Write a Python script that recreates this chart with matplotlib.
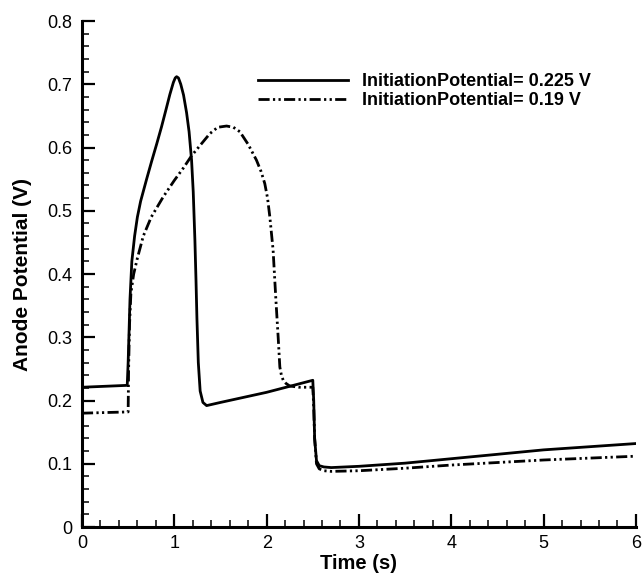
import numpy as np
import matplotlib
matplotlib.use('Agg')
import matplotlib.pyplot as plt
from matplotlib.ticker import MultipleLocator

plt.rcParams['font.family'] = ['Liberation Sans', 'DejaVu Sans']

# -------------------------------------------------------------------
# curve: InitiationPotential = 0.225 V
t_a = [0.0, 0.49, 0.50, 0.51, 0.52, 0.54, 0.57, 0.60, 0.635, 0.70, 0.754,
       0.81, 0.862, 0.91, 0.952, 0.99, 1.01, 1.025, 1.045, 1.07, 1.10, 1.133,
       1.16, 1.187, 1.205, 1.223, 1.235, 1.245, 1.26, 1.28, 1.31, 1.35, 1.5,
       2.0, 2.5, 2.51, 2.52, 2.54, 2.57, 2.62, 2.7, 3.0, 3.5, 4.0, 4.5, 5.0,
       5.5, 6.0]
v_a = [0.221, 0.224, 0.26, 0.31, 0.36, 0.42, 0.46, 0.49, 0.515, 0.55, 0.578,
       0.606, 0.633, 0.66, 0.684, 0.703, 0.710, 0.712, 0.710, 0.700, 0.683,
       0.655, 0.625, 0.58, 0.53, 0.454, 0.39, 0.33, 0.26, 0.215, 0.197, 0.192,
       0.197, 0.213, 0.232, 0.20, 0.14, 0.105, 0.097, 0.095, 0.094, 0.096,
       0.101, 0.108, 0.115, 0.122, 0.127, 0.132]

# InitiationPotential = 0.19 V
t_b = [0.0, 0.50, 0.505, 0.515, 0.53, 0.56, 0.60, 0.664, 0.75, 0.88, 1.0,
       1.1, 1.187, 1.3, 1.385, 1.47, 1.566, 1.64, 1.71, 1.8, 1.89, 1.94, 1.98,
       2.01, 2.035, 2.07, 2.10, 2.125, 2.143, 2.16, 2.18, 2.21, 2.25, 2.35,
       2.5, 2.51, 2.52, 2.54, 2.57, 2.62, 2.7, 3.0, 3.5, 4.0, 4.5, 5.0, 5.5,
       6.0]
v_b = [0.180, 0.182, 0.25, 0.32, 0.37, 0.40, 0.425, 0.46, 0.49, 0.522, 0.548,
       0.568, 0.587, 0.607, 0.622, 0.632, 0.634, 0.632, 0.625, 0.605, 0.58,
       0.562, 0.543, 0.52, 0.49, 0.438, 0.36, 0.30, 0.253, 0.24, 0.232, 0.227,
       0.223, 0.221, 0.221, 0.19, 0.14, 0.10, 0.092, 0.089, 0.088, 0.089,
       0.093, 0.098, 0.102, 0.106, 0.109, 0.112]

label_a = 'InitiationPotential= 0.225 V'
label_b = 'InitiationPotential= 0.19 V'

x_ticks = [0, 1, 2, 3, 4, 5, 6]
x_ticklabels = ['0', '1', '2', '3', '4', '5', '6']
y_ticks = [0, 0.1, 0.2, 0.3, 0.4, 0.5, 0.6, 0.7, 0.8]
y_ticklabels = ['0', '0.1', '0.2', '0.3', '0.4', '0.5', '0.6', '0.7', '0.8']

# -------------------------------------------------------------------
fig = plt.figure(figsize=(6.43, 5.76), dpi=100)
ax = fig.add_axes([0.1275, 0.085, 0.8615, 0.8785])

dashdotdot = (0, (4.0, 1.2, 0.8, 1.2, 0.8, 1.2))
ax.plot(t_a, v_a, color='black', linewidth=2.0, label=label_a)
ax.plot(t_b, v_b, color='black', linewidth=2.0, linestyle=dashdotdot, label=label_b)

ax.set_xlim(0, 6)
ax.set_ylim(0, 0.8)
ax.set_xticks(x_ticks)
ax.set_xticklabels(x_ticklabels, fontsize=13)
ax.set_yticks(y_ticks)
ax.set_yticklabels(y_ticklabels, fontsize=13)
ax.xaxis.set_minor_locator(MultipleLocator(0.2))
ax.yaxis.set_minor_locator(MultipleLocator(0.02))

ax.spines['top'].set_visible(False)
ax.spines['right'].set_visible(False)
ax.spines['left'].set_linewidth(2.2)
ax.spines['bottom'].set_linewidth(2.2)
ax.tick_params(which='major', direction='in', length=9.5, width=1.6, pad=7)
ax.tick_params(which='minor', direction='in', length=5, width=1.1)
ax.tick_params(axis='x', which='major', pad=6)

ax.set_xlabel('Time (s)', fontsize=14.5, fontweight='bold', labelpad=1)
ax.set_ylabel('Anode Potential (V)', fontsize=15, fontweight='bold', labelpad=11)

leg = ax.legend(loc='upper left', bbox_to_anchor=(0.318, 0.897), frameon=False,
                borderpad=0, borderaxespad=0, handlelength=5.0, handletextpad=0.75,
                labelspacing=0.1, prop={'size': 13, 'weight': 'bold'})

plt.savefig('out.png', dpi=100)
plt.close()
